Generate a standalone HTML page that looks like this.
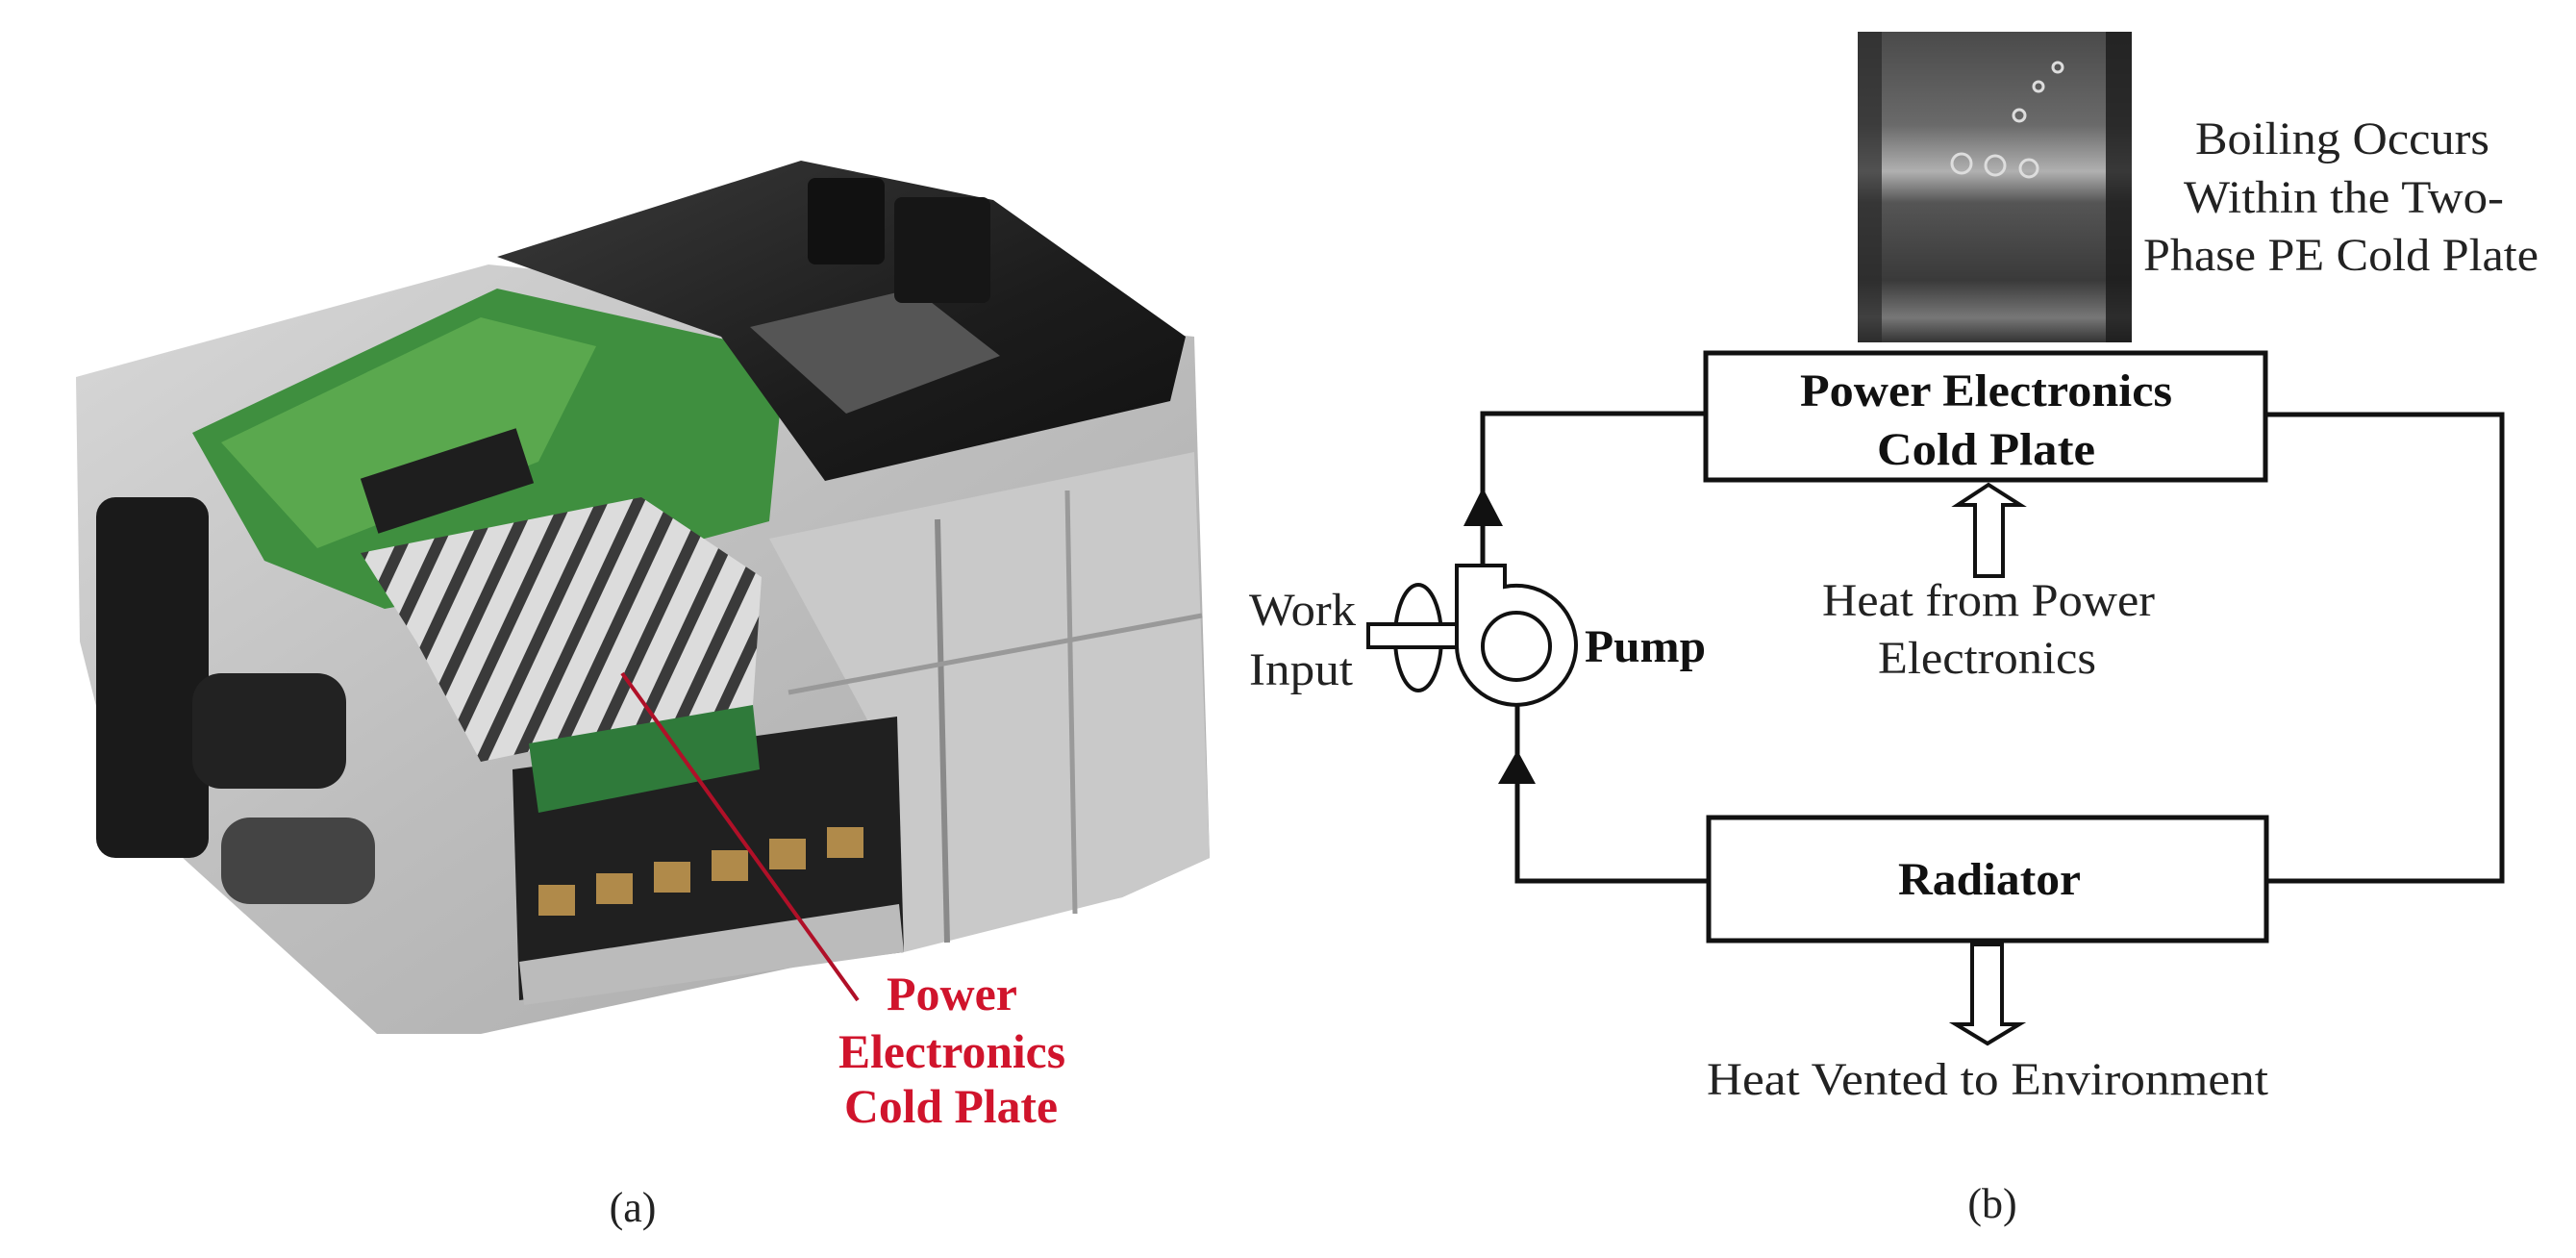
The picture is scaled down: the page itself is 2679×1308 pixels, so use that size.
<!DOCTYPE html>
<html><head><meta charset="utf-8"><style>
html,body{margin:0;padding:0;background:#fff;}
svg{display:block;}
text{font-family:"Liberation Serif",serif;}
</style></head><body>
<svg width="2679" height="1308" viewBox="0 0 2679 1308" xmlns="http://www.w3.org/2000/svg">
<defs>
<linearGradient id="silver" x1="0" y1="0" x2="1" y2="1">
<stop offset="0" stop-color="#d8d8d8"/><stop offset="0.5" stop-color="#bdbdbd"/><stop offset="1" stop-color="#a8a8a8"/></linearGradient>
<linearGradient id="blk" x1="0" y1="0" x2="1" y2="1">
<stop offset="0" stop-color="#3a3a3a"/><stop offset="0.6" stop-color="#1c1c1c"/><stop offset="1" stop-color="#111"/></linearGradient>
<linearGradient id="boil" x1="0" y1="0" x2="0" y2="1">
<stop offset="0" stop-color="#4a4a4a"/><stop offset="0.3" stop-color="#6a6a6a"/><stop offset="0.45" stop-color="#b0b0b0"/><stop offset="0.55" stop-color="#555"/><stop offset="0.8" stop-color="#3a3a3a"/><stop offset="0.92" stop-color="#777"/><stop offset="1" stop-color="#333"/></linearGradient>
<pattern id="fins" width="34" height="40" patternUnits="userSpaceOnUse" patternTransform="rotate(25)">
<rect width="34" height="40" fill="#dcdcdc"/><rect width="12" height="40" fill="#3a3a3a"/></pattern>
</defs>

<!-- Left photo approximation -->
<polygon points="79,392 508,275 1242,350 1258,892 1167,933 500,1075 392,1075 125,833 83,667" fill="url(#silver)"/>
<polygon points="800,560 1242,470 1258,892 1167,933 940,990 930,800" fill="#c9c9c9"/>
<line x1="975" y1="540" x2="985" y2="980" stroke="#8a8a8a" stroke-width="6"/>
<line x1="1110" y1="510" x2="1118" y2="950" stroke="#9a9a9a" stroke-width="5"/>
<line x1="820" y1="720" x2="1250" y2="640" stroke="#999" stroke-width="5"/>
<polygon points="200,450 517,300 817,367 800,542 583,600 400,633 275,583" fill="#3f8f3f"/>
<polygon points="230,460 500,330 620,360 560,480 330,570" fill="#5aa84e"/>
<rect x="380" y="470" width="170" height="60" fill="#1e1e1e" transform="rotate(-18 465 500)"/>
<polygon points="375,575 667,517 792,600 783,733 500,792 433,667" fill="url(#fins)"/>
<polygon points="517,267 833,167 1033,208 1233,350 1217,417 858,500 750,350" fill="url(#blk)"/>
<polygon points="780,340 950,300 1040,370 880,430" fill="#555"/>
<rect x="840" y="185" width="80" height="90" fill="#111" rx="8"/>
<rect x="930" y="205" width="100" height="110" fill="#161616" rx="8"/>
<rect x="100" y="517" width="117" height="375" fill="#1a1a1a" rx="20"/>
<rect x="200" y="700" width="160" height="120" fill="#222" rx="30"/>
<rect x="230" y="850" width="160" height="90" fill="#444" rx="30"/>
<polygon points="533,800 933,745 940,990 540,1040" fill="#202020"/>
<polygon points="550,773 783,733 790,800 560,845" fill="#2f7a3a"/>
<g fill="#b08a4a"><rect x="560" y="920" width="38" height="32"/><rect x="620" y="908" width="38" height="32"/><rect x="680" y="896" width="38" height="32"/><rect x="740" y="884" width="38" height="32"/><rect x="800" y="872" width="38" height="32"/><rect x="860" y="860" width="38" height="32"/></g>
<polygon points="540,1000 935,940 940,990 545,1045" fill="#bbb"/>
<line x1="647" y1="700" x2="892" y2="1040" stroke="#b01028" stroke-width="4"/>

<g fill="#d0142c" font-weight="bold" font-size="50">
<text x="922" y="1050" textLength="136" lengthAdjust="spacingAndGlyphs">Power</text>
<text x="872" y="1110" textLength="236" lengthAdjust="spacingAndGlyphs">Electronics</text>
<text x="878" y="1167" textLength="222" lengthAdjust="spacingAndGlyphs">Cold Plate</text>
</g>
<text x="658" y="1270" font-size="44" fill="#222" text-anchor="middle">(a)</text>

<!-- Right diagram -->
<rect x="1932" y="33" width="285" height="323" fill="url(#boil)"/>
<rect x="1932" y="33" width="25" height="323" fill="#2a2a2a" opacity="0.7"/>
<rect x="2190" y="33" width="27" height="323" fill="#1a1a1a" opacity="0.8"/>
<g fill="none" stroke="#ddd" stroke-width="3"><circle cx="2040" cy="170" r="10"/><circle cx="2075" cy="172" r="10"/><circle cx="2110" cy="175" r="9"/><circle cx="2120" cy="90" r="5"/><circle cx="2100" cy="120" r="6"/><circle cx="2140" cy="70" r="5"/></g>

<g fill="#222" font-size="48">
<text x="2283" y="160" textLength="306" lengthAdjust="spacingAndGlyphs">Boiling Occurs</text>
<text x="2271" y="221" textLength="333" lengthAdjust="spacingAndGlyphs">Within the Two-</text>
<text x="2229" y="281" textLength="411" lengthAdjust="spacingAndGlyphs">Phase PE Cold Plate</text>
</g>

<g stroke="#111" stroke-width="5" fill="none">
<rect x="1774" y="367" width="582" height="132" fill="#fff"/>
<rect x="1777" y="850" width="580" height="128" fill="#fff"/>
<polyline points="1774,430 1542,430 1542,588"/>
<polyline points="2356,431 2602,431 2602,916 2357,916"/>
<polyline points="1777,916 1578,916 1578,734"/>
<ellipse cx="1475" cy="663" rx="24" ry="55" stroke-width="4"/>
</g>
<rect x="1423" y="649" width="95" height="24" fill="#fff" stroke="#111" stroke-width="4"/>
<path d="M1515,672 L1515,588 L1565,588 L1565,610 A62,62 0 1 1 1515,672 Z" fill="#fff" stroke="#111" stroke-width="4"/>
<circle cx="1577" cy="672" r="35" fill="#fff" stroke="#111" stroke-width="4"/>
<polygon points="1542,507 1522,547 1563,547" fill="#111"/>
<polygon points="1578,780 1558,815 1597,815" fill="#111"/>
<!-- hollow arrows -->
<path d="M2054,599 L2054,525 L2036,525 L2068,504 L2101,525 L2083,525 L2083,599 Z" fill="#fff" stroke="#111" stroke-width="4"/>
<path d="M2051,982 L2051,1065 L2034,1065 L2067,1085 L2100,1065 L2082,1065 L2082,982 Z" fill="#fff" stroke="#111" stroke-width="4"/>

<g fill="#111" font-weight="bold" font-size="48">
<text x="1872" y="422" textLength="387" lengthAdjust="spacingAndGlyphs">Power Electronics</text>
<text x="1952" y="483" textLength="227" lengthAdjust="spacingAndGlyphs">Cold Plate</text>
<text x="1974" y="930" textLength="190" lengthAdjust="spacingAndGlyphs">Radiator</text>
<text x="1648" y="688" textLength="126" lengthAdjust="spacingAndGlyphs">Pump</text>
</g>
<g fill="#222" font-size="48">
<text x="1895" y="640" textLength="346" lengthAdjust="spacingAndGlyphs">Heat from Power</text>
<text x="1953" y="700" textLength="227" lengthAdjust="spacingAndGlyphs">Electronics</text>
<text x="1299" y="650" textLength="111" lengthAdjust="spacingAndGlyphs">Work</text>
<text x="1299" y="712" textLength="108" lengthAdjust="spacingAndGlyphs">Input</text>
<text x="1775" y="1138" textLength="584" lengthAdjust="spacingAndGlyphs">Heat Vented to Environment</text>
<text x="2072" y="1266" font-size="44" text-anchor="middle">(b)</text>
</g>
</svg>
</body></html>
